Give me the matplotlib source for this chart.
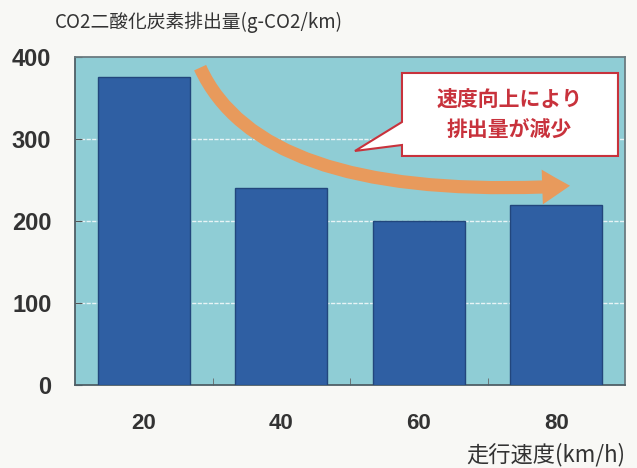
import numpy as np
import matplotlib.pyplot as plt
from matplotlib.patches import FancyArrowPatch, Polygon
from matplotlib.path import Path

plt.rcParams['font.family'] = ['Noto Sans CJK JP', 'DejaVu Sans']

# data
speeds = ['20', '40', '60', '80']
co2 = [376, 240, 200, 219]
yticks = [0, 100, 200, 300, 400]

title = 'CO2二酸化炭素排出量(g-CO2/km)'
xlabel = '走行速度(km/h)'
callout = '速度向上により\n排出量が減少'

fig = plt.figure(figsize=(6.37, 4.68), dpi=100, facecolor='#f8f8f5')
ax = fig.add_axes([75/637, 1 - 385/468, 550/637, 328/468])
ax.set_facecolor('#8fcdd5')

x = np.arange(len(speeds))
ax.bar(x, co2, width=0.67, color='#2f5fa3', edgecolor='#22467c', linewidth=1.0, zorder=3)

ax.set_xlim(-0.5, 3.5)
ax.set_ylim(0, 400)
ax.set_yticks(yticks)
ax.set_yticklabels([str(v) for v in yticks], fontsize=17, fontweight='bold',
                   color='#333333', family=['Liberation Sans'])
ax.set_xticks(x)
ax.set_xticklabels(speeds, fontsize=16, fontweight='bold', color='#333333',
                   family=['Liberation Sans'])
ax.set_xticks([0.5, 1.5, 2.5], minor=True)
ax.tick_params(axis='y', direction='in', length=5, color='#555555', pad=17)
ax.tick_params(axis='x', which='major', length=0, pad=20)
ax.tick_params(axis='x', which='minor', direction='in', length=5, color='#666666')

for v in yticks[1:-1]:
    ax.axhline(v, color='white', lw=1.0, ls=(0, (3, 1)), alpha=0.8, zorder=1)

for side, sp in ax.spines.items():
    sp.set_color('#4f5f66' if side in ('left', 'bottom') else '#6b7b80')
    sp.set_linewidth(1.3)

# curved arrow
verts = [(0.41, 387), (0.86, 222), (3.1, 243)]
codes = [Path.MOVETO, Path.CURVE3, Path.CURVE3]
arrow = FancyArrowPatch(path=Path(verts, codes),
                        arrowstyle='simple,head_width=2.5,head_length=2.0,tail_width=0.95',
                        mutation_scale=10, color='#e89a5c', lw=0, zorder=4)
ax.add_patch(arrow)

# callout box
box = Polygon([(1.878, 380.5), (3.449, 380.5), (3.449, 279.3), (1.878, 279.3),
               (1.878, 292.7), (1.536, 285.4), (1.878, 320.7)],
              closed=True, facecolor='white', edgecolor='#c8323c', lw=1.5,
              zorder=5, clip_on=False)
ax.add_patch(box)
ax.text(2.66, 330, callout, ha='center', va='center', fontsize=15,
        fontweight='bold', color='#c8323c', linespacing=1.5, zorder=6)

fig.text(55/637, 1 - 22/468, title, ha='left', va='center', fontsize=13.5, color='#333333')
fig.text(625/637, 1 - 455/468, xlabel, ha='right', va='center', fontsize=16, color='#333333')

fig.savefig('out.png', dpi=100, facecolor=fig.get_facecolor())
